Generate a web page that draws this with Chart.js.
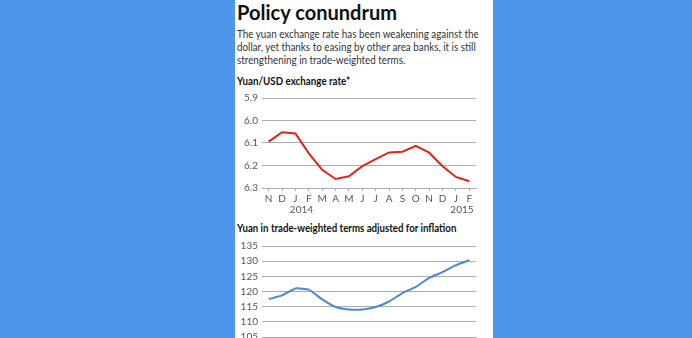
<!DOCTYPE html>
<html>
<head>
<meta charset="utf-8">
<script src="https://cdn.jsdelivr.net/npm/chart.js@4"></script>
<style>
  html, body { margin: 0; padding: 0; width: 692px; height: 338px; overflow: hidden; background: #4d96ea; font-family: Lato, sans-serif; }
  #panel { position: absolute; left: 235px; top: 0; width: 258px; height: 338px; background: #fff; }
  .txt { position: absolute; left: 237px; white-space: nowrap; color: #111; transform-origin: 0 0; }
  #title { top: 1px; font-size: 21px; line-height: 21px; font-weight: 700; transform: scaleX(0.955); }
  #sub { top: 27px; font-size: 12px; line-height: 13px; color: #333; transform: scaleX(0.82); }
  #t1 { top: 75px; font-size: 11px; line-height: 11px; font-weight: 700; transform: scaleX(0.89); }
  #t2 { top: 222px; font-size: 11px; line-height: 11px; font-weight: 700; transform: scaleX(0.88); }
  .box { position: absolute; left: 235px; width: 258px; }
  #box1 { top: 86px; height: 132px; }
  #box2 { top: 236px; height: 131px; }
</style>
</head>
<body>
<div id="panel"></div>
<div class="txt" id="title">Policy conundrum</div>
<div class="txt" id="sub">The yuan exchange rate has been weakening against the<br>dollar, yet thanks to easing by other area banks, it is still<br>strengthening in trade-weighted terms.</div>
<div class="txt" id="t1">Yuan/USD exchange rate*</div>
<div class="txt" id="t2">Yuan in trade-weighted terms adjusted for inflation</div>
<div class="box" id="box1"><canvas id="rateChart"></canvas></div>
<div class="box" id="box2"><canvas id="tradeChart"></canvas></div>

<script>
const months = ["N", "D", "J", "F", "M", "A", "M", "J", "J", "A", "S", "O", "N", "D", "J", "F"];
const yearIndex = [2, 14];
const years = ["2014", "2015"];

// yuan per dollar, monthly
const usdRate = [6.094, 6.052, 6.058, 6.146, 6.219, 6.260, 6.248, 6.203, 6.172, 6.142, 6.139, 6.113, 6.143, 6.203, 6.251, 6.270];
// real effective exchange rate index
const tradeWeighted = [117.5, 118.7, 121.0, 120.6, 117.4, 114.9, 114.1, 114.1, 114.9, 116.7, 119.5, 121.5, 124.5, 126.4, 128.7, 130.3];

const rateTicks = [5.9, 6.0, 6.1, 6.2, 6.3];
const tradeTicks = [105, 110, 115, 120, 125, 130, 135];

const gridColor = "#adadad";
const tickColor = "#555";

// year labels under the month row
const yearPlugin = {
    id: "years",
    afterDraw(chart) {
        const x = chart.scales.x;
        const c = chart.ctx;
        c.save();
        c.font = "10px Lato";
        c.fillStyle = tickColor;
        c.textAlign = "center";
        c.textBaseline = "middle";
        yearIndex.forEach((idx, i) => {
            c.fillText(years[i], x.getPixelForValue(idx) + 6, x.top + 22);
        });
        c.restore();
    }
};

function makeOptions(tickValues, reverse, fmt, padTop) {
    return {
        responsive: true,
        maintainAspectRatio: false,
        animation: false,
        layout: { padding: { top: padTop, right: 17, left: 0, bottom: 0 } },
        plugins: { legend: { display: false }, tooltip: { enabled: false } },
        scales: {
            x: {
                offset: true,
                grid: { drawOnChartArea: false, drawTicks: true, tickLength: 3, color: gridColor },
                border: { display: true, color: gridColor },
                ticks: { color: tickColor, font: { family: "Lato", size: 10 }, padding: 2, maxRotation: 0, autoSkip: false },
                afterFit: s => { s.height = 30; }
            },
            y: {
                reverse,
                min: tickValues[0],
                max: tickValues[tickValues.length - 1],
                afterBuildTicks: s => { s.ticks = tickValues.map(v => ({ value: v })); },
                grid: { color: gridColor, drawTicks: false },
                border: { display: false },
                ticks: { color: tickColor, font: { family: "Lato", size: 10 }, padding: 4, callback: fmt },
                afterFit: s => { s.width = 27; }
            }
        }
    };
}

new Chart(document.getElementById("rateChart"), {
    type: "line",
    data: {
        labels: months,
        datasets: [{ data: usdRate, borderColor: "#e4211b", borderWidth: 2, pointRadius: 0, tension: 0, fill: false }]
    },
    options: makeOptions(rateTicks, true, v => v.toFixed(1), 12),
    plugins: [yearPlugin]
});

new Chart(document.getElementById("tradeChart"), {
    type: "line",
    data: {
        labels: months,
        datasets: [{ data: tradeWeighted, borderColor: "#4b89d0", borderWidth: 2, pointRadius: 0, tension: 0.15, fill: false }]
    },
    options: makeOptions(tradeTicks, false, v => String(v), 10),
    plugins: [yearPlugin]
});
</script>
</body>
</html>
